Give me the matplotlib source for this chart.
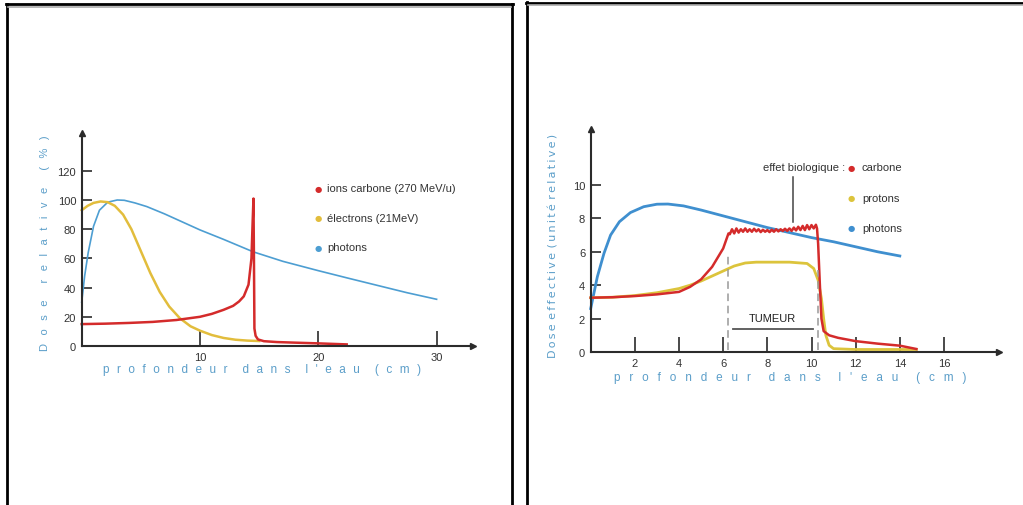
import matplotlib.pyplot as plt
from matplotlib.lines import Line2D

plt.rcParams['font.family'] = ['Liberation Sans', 'DejaVu Sans']

# ---- left chart: relative dose vs depth ----
photon_x = [0, 0.25, 0.55, 1.0, 1.5, 2.2, 3.0, 3.6, 4.5, 5.5, 7, 8.5, 10, 12, 14.5, 17, 20, 22.5, 25, 27.5, 30]
photon_y = [30, 48, 64, 82, 93, 98.5, 100, 99.8, 98, 95.5, 90.5, 85, 79.5, 73, 64.5, 58, 51.6, 46.5, 41.5, 36.5, 32]

elec_x = [0, 0.5, 1, 1.6, 2.2, 2.8, 3.5, 4.2, 5, 5.8, 6.6, 7.4, 8.3, 9.2, 10, 11, 12, 13, 14, 15]
elec_y = [93, 96, 98, 99, 98.5, 96, 90, 80, 65, 50, 37, 27, 19, 13.5, 10.5, 7.5, 5.5, 4.3, 3.7, 3.4]

carb_x = [0, 2, 4, 6, 8, 10, 11, 12, 12.8, 13.3, 13.7, 14.1, 14.35, 14.45, 14.52, 14.56, 14.6, 14.7, 14.9,
          15.4, 16.5, 18, 20, 22.4]
carb_y = [15, 15.3, 15.8, 16.5, 17.8, 20, 22, 24.8, 27.5, 30.5, 34, 42, 60, 85, 101, 60, 12, 7, 4.5,
          3.3, 2.7, 2.3, 1.8, 1.1]

left_yticks = [0, 20, 40, 60, 80, 100, 120]
left_xticks = [10, 20, 30]
left_legend = ['ions carbone (270 MeV/u)', 'électrons (21MeV)', 'photons']

# ---- right chart: effective dose vs depth ----
photon2_x = [0, 0.3, 0.6, 0.9, 1.3, 1.8, 2.4, 3.0, 3.5, 4.2, 5, 6, 7, 8, 9, 10, 11, 12, 13, 14]
photon2_y = [2.6, 4.5, 5.9, 7.0, 7.8, 8.35, 8.7, 8.85, 8.86, 8.75, 8.5, 8.15, 7.8, 7.45, 7.15, 6.85, 6.6, 6.3, 6.0, 5.75]

carb2_x = [0, 1, 2, 3, 4, 4.5, 5, 5.5, 6.0, 6.24,
           6.3, 6.4, 6.5, 6.6, 6.7, 6.8, 6.9, 7.0, 7.1, 7.2, 7.3, 7.4, 7.5, 7.6, 7.7, 7.8, 7.9, 8.0,
           8.1, 8.2, 8.3, 8.4, 8.5, 8.6, 8.7, 8.8, 8.9, 9.0, 9.1, 9.2, 9.3, 9.4, 9.5, 9.6, 9.7, 9.8,
           9.9, 10.0, 10.1, 10.2,
           10.25, 10.3, 10.38, 10.45, 10.55, 10.8, 11.2, 12, 13, 14, 14.75]
carb2_y = [3.25, 3.28, 3.35, 3.45, 3.6, 3.9, 4.35, 5.1, 6.2, 7.1,
           7.05, 7.35, 7.1, 7.4, 7.15, 7.35, 7.2, 7.4, 7.2, 7.35, 7.2, 7.38, 7.22, 7.35, 7.18, 7.32, 7.2, 7.3,
           7.18, 7.32, 7.2, 7.35, 7.22, 7.35, 7.25, 7.38, 7.25, 7.4, 7.25, 7.45, 7.28, 7.5, 7.3, 7.55, 7.3, 7.6,
           7.35, 7.6, 7.4, 7.62,
           7.4, 6.5, 4.0, 2.0, 1.25, 1.0, 0.85, 0.65, 0.5, 0.38, 0.18]

prot_x = [0, 1, 2, 3, 4, 4.5, 5, 5.5, 6, 6.5, 7, 7.5, 8, 9, 9.8, 10.1, 10.3, 10.45, 10.55, 10.65, 10.8, 11,
          12, 13, 14, 14.75]
prot_y = [3.25, 3.28, 3.38, 3.55, 3.8, 4.0, 4.25, 4.55, 4.85, 5.15, 5.33, 5.38, 5.38, 5.38, 5.3, 5.0, 4.3,
          3.2, 2.0, 1.0, 0.4, 0.2, 0.15, 0.15, 0.15, 0.15]

right_yticks = [0, 2, 4, 6, 8, 10]
right_xticks = [2, 4, 6, 8, 10, 12, 14, 16]
right_legend = ['carbone', 'protons', 'photons']

RED = '#d42b2b'
YELLOW = '#e2bd3c'
BLUE = '#4d9ed2'
LABEL_BLUE = '#5b9ec9'
AXIS = '#2b2b2b'
TXT = '#333333'

W, H = 1023, 506
fig = plt.figure(figsize=(W / 100, H / 100), dpi=100)


def axes_px(x0, y0, w, h):
    # x0, y0 = pixel position of the origin (y from top)
    return fig.add_axes([x0 / W, (H - y0) / H, w / W, h / H])


def style_axes(ax, xticks, yticks, xlen, ylen):
    for s in ['top', 'right']:
        ax.spines[s].set_visible(False)
    for s in ['left', 'bottom']:
        ax.spines[s].set_color(AXIS)
        ax.spines[s].set_linewidth(1.5)
    ax.set_xticks(xticks)
    ax.set_yticks(yticks)
    ax.tick_params(axis='x', direction='in', length=xlen, width=1.2, color=AXIS,
                   labelsize=8, labelcolor=TXT, pad=4)
    ax.tick_params(axis='y', direction='in', length=ylen, width=1.2, color=AXIS,
                   labelsize=8, labelcolor=TXT, pad=4)
    ax.patch.set_alpha(0)
    ax.plot(1, 0, '>', color=AXIS, ms=5, transform=ax.transAxes, clip_on=False)
    ax.plot(0, 1, '^', color=AXIS, ms=5, transform=ax.transAxes, clip_on=False)


def spaced(s, gap):
    # letter-spaced label text, words separated by a wider gap
    return (gap * 2).join(gap.join(w) for w in s.split(' '))


# left chart
ax1 = axes_px(81.7, 347, 33.1 * 11.83, 146 * 1.46)
ax1.set_xlim(0, 33.1)
ax1.set_ylim(0, 146)
style_axes(ax1, left_xticks, left_yticks, 11, 7)
ax1.plot(photon_x, photon_y, color=BLUE, lw=1.2, clip_on=False)
ax1.plot(elec_x, elec_y, color=YELLOW, lw=1.8, clip_on=False)
ax1.plot(carb_x, carb_y, color=RED, lw=1.8, clip_on=False)
for i, (lab, col) in enumerate(zip(left_legend, [RED, YELLOW, BLUE])):
    yy = 189.5 + i * 29.3
    fig.text(318 / W, 1 - yy / H, '●', color=col, fontsize=6, ha='center', va='center',
             family=['DejaVu Sans'])
    fig.text(327 / W, 1 - yy / H, lab, color=TXT, fontsize=8, va='center')

fig.text(45 / W, 1 - 243 / H, spaced('Dose relative (%)', '  \u2009'), rotation=90,
         color=LABEL_BLUE, fontsize=8, ha='center', va='center')
fig.text(262 / W, 1 - 370 / H, spaced("profondeur dans l'eau (cm)", '  \u200a'),
         color=LABEL_BLUE, fontsize=8.5, ha='center', va='center')

# right chart
ax2 = axes_px(590.7, 353, 18.5 * 22.08, 13.35 * 16.7)
ax2.set_xlim(0, 18.5)
ax2.set_ylim(0, 13.35)
style_axes(ax2, right_xticks, right_yticks, 11, 7)
ax2.plot(photon2_x, photon2_y, color='#3f8fcf', lw=2.0, clip_on=False)
ax2.plot(prot_x, prot_y, color='#dcc43c', lw=2.0, clip_on=False)
ax2.plot(carb2_x, carb2_y, color=RED, lw=1.8, clip_on=False)

# tumour markers
ax2.plot([6.23, 6.23], [0.1, 5.8], color='#999999', lw=1.1, ls=(0, (5, 3)))
ax2.plot([10.31, 10.31], [0.1, 4.9], color='#999999', lw=1.1, ls=(0, (5, 3)))
ax2.plot([6.43, 10.05], [1.38, 1.38], color='#555555', lw=1.3)
ax2.text(8.25, 2.05, 'TUMEUR', color='#222222', fontsize=8, ha='center', va='center')
ax2.plot([9.14, 9.14], [7.8, 10.45], color='#444444', lw=1.1)

for i, (lab, col) in enumerate(zip(right_legend, [RED, '#dcc43c', '#3f8fcf'])):
    yy = 168.3 + i * 30.3
    fig.text(851 / W, 1 - yy / H, '●', color=col, fontsize=6, ha='center', va='center',
             family=['DejaVu Sans'])
    fig.text(862 / W, 1 - yy / H, lab, color=TXT, fontsize=8, va='center')
fig.text(845 / W, 1 - 168.3 / H, 'effet biologique :', color=TXT, fontsize=8, ha='right', va='center')

fig.text(553 / W, 1 - 246 / H, spaced('Dose effective (unité relative)', '\u2009'),
         rotation=90, color=LABEL_BLUE, fontsize=8, ha='center', va='center', family=['DejaVu Sans'])
fig.text(790 / W, 1 - 378 / H, spaced("profondeur dans l'eau (cm)", '  \u2009'),
         color=LABEL_BLUE, fontsize=8.5, ha='center', va='center',
         family=['Liberation Sans', 'DejaVu Sans'])

# panel frames
def frame_line(xs, ys, lw=2.0, color='black'):
    fig.add_artist(Line2D([x / W for x in xs], [1 - y / H for y in ys], color=color, lw=lw))

frame_line([7, 7], [5, 506])
frame_line([6, 513], [5, 5])
frame_line([512, 512], [5, 506])
frame_line([8, 511], [7.5, 7.5], lw=1.2, color='#aaaaaa')
frame_line([527, 527], [3, 506])
frame_line([526, 1023], [3.5, 3.5])
frame_line([528, 1023], [6, 6], lw=1.2, color='#aaaaaa')

fig.savefig('out.png', dpi=100)
